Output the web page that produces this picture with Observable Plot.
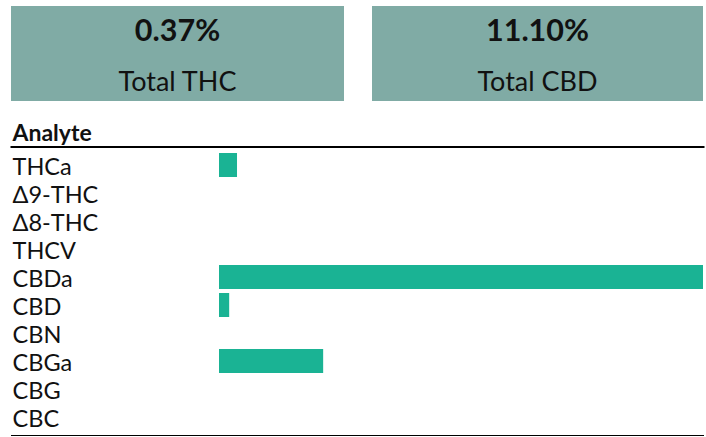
<!DOCTYPE html>
<html>
<head>
<meta charset="utf-8">
<script src="https://cdn.jsdelivr.net/npm/d3@7"></script>
<script src="https://cdn.jsdelivr.net/npm/@observablehq/plot@0.6"></script>
<style>
  html, body { margin: 0; padding: 0; background: #fff; }
  body { width: 706px; height: 437px; position: relative; overflow: hidden; font-family: Lato, "Noto Sans", sans-serif; color: #111; }
  .box { position: absolute; top: 6px; height: 95px; background: #80aba5; }
  .box .val { position: absolute; left: 0; right: 0; top: 7.7px; text-align: center; font-weight: 700; font-size: 30.5px; line-height: 1; }
  .box .lab { position: absolute; left: 0; right: 0; top: 60.8px; text-align: center; font-size: 27px; line-height: 1; }
  #chart { position: absolute; left: 0; top: 110px; }
</style>
</head>
<body>
<div id="boxes"></div>
<div id="chart"></div>
<script>
// Summary metrics
const summaryLabels = ["Total THC", "Total CBD"];
const summaryValues = [0.37, 11.10];

// Analyte table
const analytes = ["THCa", "Δ9-THC", "Δ8-THC", "THCV", "CBDa", "CBD", "CBN", "CBGa", "CBG", "CBC"];
const percents = [0.46, 0, 0, 0, 12.36, 0.26, 0, 2.66, 0, 0];
const headerLabel = "Analyte";

const boxLayout = [{left: 11, width: 333}, {left: 372, width: 331}];
const boxes = document.getElementById("boxes");
summaryLabels.forEach((lab, i) => {
  const b = document.createElement("div");
  b.className = "box";
  b.style.left = boxLayout[i].left + "px";
  b.style.width = boxLayout[i].width + "px";
  const v = document.createElement("div");
  v.className = "val";
  v.textContent = summaryValues[i].toFixed(2) + "%";
  const l = document.createElement("div");
  l.className = "lab";
  l.textContent = lab;
  b.appendChild(v); b.appendChild(l);
  boxes.appendChild(b);
});

const rows = analytes.map((a, i) => ({analyte: a, value: percents[i]}));

const chart = Plot.plot({
  width: 706,
  height: 327,
  marginTop: 38,
  marginBottom: 2,
  marginLeft: 11,
  marginRight: 3,
  style: {fontFamily: "Lato, 'Noto Sans', sans-serif", fontSize: "23px", color: "#111", background: "white"},
  x: {domain: [0, d3.max(percents)], range: [219, 703], axis: null},
  y: {domain: analytes, paddingInner: 0.13, paddingOuter: 0.065, axis: null},
  marks: [
    Plot.barX(rows, {x: "value", y: "analyte", fill: "#1ab394"}),
    Plot.text(rows, {y: "analyte", text: "analyte", frameAnchor: "left", textAnchor: "start", dx: 1, dy: 1.5, fill: "#111", fontSize: 23.5}),
    Plot.text([headerLabel], {text: d => d, frameAnchor: "top-left", textAnchor: "start", lineAnchor: "bottom", dx: 1, dy: -7.5, fontWeight: "bold", fontSize: 23, fill: "#111"}),
    Plot.frame({anchor: "top", stroke: "#000", strokeWidth: 2, dy: -1.5}),
    Plot.frame({anchor: "bottom", stroke: "#000", strokeWidth: 1})
  ]
});
document.getElementById("chart").appendChild(chart);
</script>
</body>
</html>
